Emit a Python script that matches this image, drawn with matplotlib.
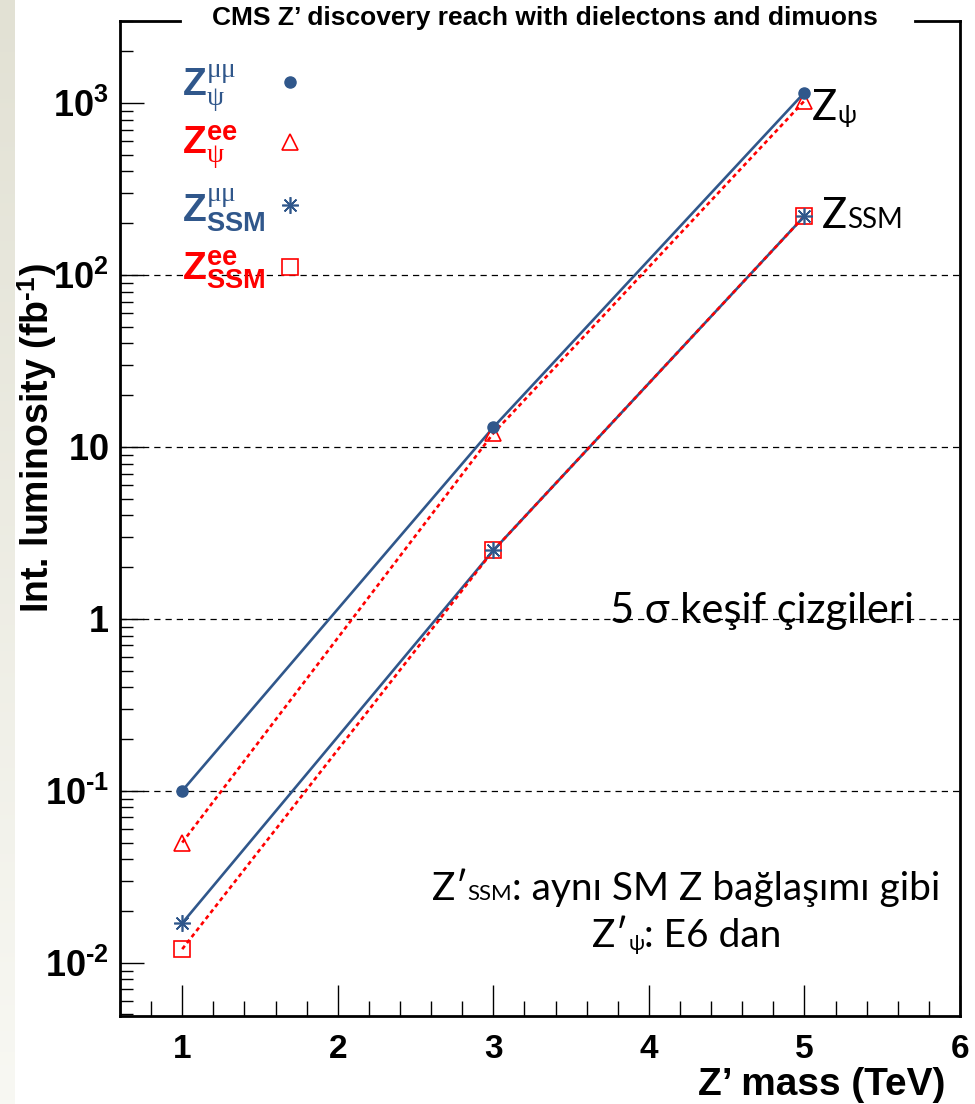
import numpy as np
import matplotlib
matplotlib.use("Agg")
import matplotlib.pyplot as plt
from matplotlib.lines import Line2D
from matplotlib.ticker import LogLocator, MultipleLocator, NullFormatter

plt.rcParams["font.family"] = ["Liberation Sans", "DejaVu Sans"]
plt.rcParams["mathtext.fontset"] = "custom"
plt.rcParams["mathtext.rm"] = "Liberation Serif"
plt.rcParams["mathtext.it"] = "Liberation Serif:italic"
plt.rcParams["mathtext.bf"] = "Liberation Sans:bold"

HYPHEN = "\u2010"

# Z' mass points (TeV) and the luminosity needed for a 5 sigma discovery (fb^-1)
mass_tev = [1, 3, 5]
lumi_psi_mumu = [0.1, 13.0, 1150.0]
lumi_psi_ee = [0.05, 12.0, 1030.0]
lumi_ssm_mumu = [0.017, 2.5, 220.0]
lumi_ssm_ee = [0.012, 2.5, 220.0]

discovery_levels = [0.1, 1, 10, 100]

x_ticks = [1, 2, 3, 4, 5, 6]
x_tick_labels = ["1", "2", "3", "4", "5", "6"]
y_ticks = [0.01, 0.1, 1, 10, 100, 1000]
y_tick_labels = ["$\\mathbf{10^{" + HYPHEN + "2}}$",
                 "$\\mathbf{10^{" + HYPHEN + "1}}$",
                 r"$\mathbf{1}$", r"$\mathbf{10}$",
                 r"$\mathbf{10^{2}}$", r"$\mathbf{10^{3}}$"]

legend_labels = [r"$\mathbf{Z}^{\mathrm{\mu\mu}}_{\mathrm{\psi}}$",
                 r"$\mathbf{Z}^{\mathbf{ee}}_{\mathrm{\psi}}$",
                 r"$\mathbf{Z}^{\mathrm{\mu\mu}}_{\mathbf{SSM}}$",
                 r"$\mathbf{Z}^{\mathbf{ee}}_{\mathbf{SSM}}$"]

BLUE = "#30578b"
RED = "#ff0000"
HUMANIST = ["Lato", "DejaVu Sans"]

W, H = 975, 1104
fig = plt.figure(figsize=(W / 100, H / 100), dpi=100)
fig.patch.set_facecolor("white")

# slide-style shaded strip on the far left
strip = fig.add_axes([0, 0, 15 / W, 1])
top_c = np.array([226, 225, 212]) / 255
bot_c = np.array([248, 248, 243]) / 255
t = np.linspace(0, 1, 256)[:, None]
grad = (top_c[None, :] * (1 - t) + bot_c[None, :] * t)[:, None, :]
strip.imshow(grad, aspect="auto", extent=[0, 1, 0, 1], origin="upper")
strip.axis("off")

ax = fig.add_axes([120 / W, (H - 1016) / H, 840 / W, 995 / H])
ax.set_yscale("log")
ax.set_xlim(0.6, 6.0)
ax.set_ylim(0.0049, 3000)

for lvl in discovery_levels:
    ax.axhline(lvl, color="black", lw=0.9, ls=(0, (5, 4)), zorder=1)

ax.plot(mass_tev, lumi_psi_mumu, color=BLUE, lw=1.9, zorder=2)
ax.plot(mass_tev, lumi_ssm_mumu, color=BLUE, lw=1.9, zorder=2)
ax.plot(mass_tev, lumi_psi_ee, color=RED, lw=1.9, dashes=(1.6, 1.3), zorder=3)
ax.plot(mass_tev, lumi_ssm_ee, color=RED, lw=1.9, dashes=(1.6, 1.3), zorder=3)

marker_styles = [
    dict(marker="o", ms=8, color=BLUE, zorder=5),
    dict(marker="^", ms=11, mfc="none", mec=RED, mew=1.2, zorder=4),
    dict(marker=(8, 2, 0), ms=12, color=BLUE, mew=1.2, zorder=5),
    dict(marker="s", ms=11, mfc="none", mec=RED, mew=1.2, zorder=4),
]
series = [lumi_psi_mumu, lumi_psi_ee, lumi_ssm_mumu, lumi_ssm_ee]
for vals, style in zip(series, marker_styles):
    ax.plot(mass_tev, vals, ls="none", **style)

# key: label text on the left, marker sample on the right
key_text_x = 0.0738
key_marker_x = 0.2024
key_baselines = [0.9256, 0.8673, 0.797, 0.7397]
key_marker_y = [0.9387, 0.8784, 0.8151, 0.7528]
for lab, col, yb, ym, style in zip(legend_labels, [BLUE, RED, BLUE, RED],
                                   key_baselines, key_marker_y, marker_styles):
    ax.text(key_text_x, yb, lab, transform=ax.transAxes, color=col,
            fontsize=28, ha="left", va="baseline")
    ax.add_line(Line2D([key_marker_x], [ym], transform=ax.transAxes,
                       ls="none", clip_on=False, **style))

# axes, ticks
ax.set_xticks(x_ticks, x_tick_labels)
ax.xaxis.set_minor_locator(MultipleLocator(0.2))
ax.set_yticks(y_ticks, y_tick_labels)
ax.yaxis.set_minor_locator(LogLocator(base=10, subs=np.arange(2, 10)))
ax.yaxis.set_minor_formatter(NullFormatter())
ax.tick_params(axis="y", which="major", direction="in", length=17, width=1.0,
               labelsize=26, pad=8)
ax.tick_params(axis="y", which="minor", direction="in", length=9, width=1.0)
ax.tick_params(axis="x", which="major", direction="in", length=22, width=1.0,
               labelsize=24, pad=13)
ax.tick_params(axis="x", which="minor", direction="in", length=11, width=1.0)
for lab in ax.get_xticklabels():
    lab.set_fontweight("bold")

for side in ["left", "right", "bottom"]:
    ax.spines[side].set_linewidth(2.0)
ax.spines["top"].set_visible(False)
for x0, x1 in [(0.0, 0.0714), (0.946, 1.0)]:
    ax.add_line(Line2D([x0, x1], [1, 1], transform=ax.transAxes, color="black",
                       lw=2.0, clip_on=False, solid_capstyle="projecting"))

ax.text(0.506, 1.003, "CMS Z\u2019 discovery reach with dielectons and dimuons",
        transform=ax.transAxes, ha="center", va="center", fontsize=19,
        fontweight="bold")

ax.set_ylabel("Int. luminosity (fb$^{\\mathbf{" + HYPHEN + "1}}$)",
              fontsize=27, fontweight="bold")
ax.yaxis.label.set_ha("right")
ax.yaxis.label.set_va("center")
ax.yaxis.set_label_coords(-0.0988, 0.756)
ax.set_xlabel("Z\u2019 mass (TeV)", fontsize=28, fontweight="bold")
ax.xaxis.label.set_ha("right")
ax.xaxis.label.set_va("center")
ax.xaxis.set_label_coords(0.982, -0.069)


def chain(pieces, x, y):
    """Write text pieces one after another on a common baseline (axes fraction)."""
    prev = None
    for s, size, dy in pieces:
        if prev is None:
            prev = ax.text(x, y, s, transform=ax.transAxes, fontsize=size,
                           family=HUMANIST, ha="left", va="baseline")
        else:
            prev = ax.annotate(s, xy=(1, y), xycoords=(prev, ax.transAxes),
                               xytext=(0, dy), textcoords="offset points",
                               fontsize=size, family=HUMANIST, ha="left",
                               va="baseline", annotation_clip=False)


chain([("Z", 30, 0), ("\u03c8", 18, -2)], 0.8238, 0.9005)
chain([("Z", 30, 0), ("SSM", 20, 0)], 0.8357, 0.792)
chain([("5 \u03c3 ke\u015fif \u00e7izgileri", 30, 0)], 0.583, 0.395)
chain([("Z\u2032", 28, 0), ("SSM", 16, 0),
       (": ayn\u0131 SM Z ba\u011fla\u015f\u0131m\u0131 gibi", 28, 0)],
      0.371, 0.1166)
chain([("Z\u2032", 28, 0), ("\u03c8", 15, -2), (": E6 dan", 28, 0)],
      0.562, 0.0693)

fig.savefig("out.png", dpi=100)
